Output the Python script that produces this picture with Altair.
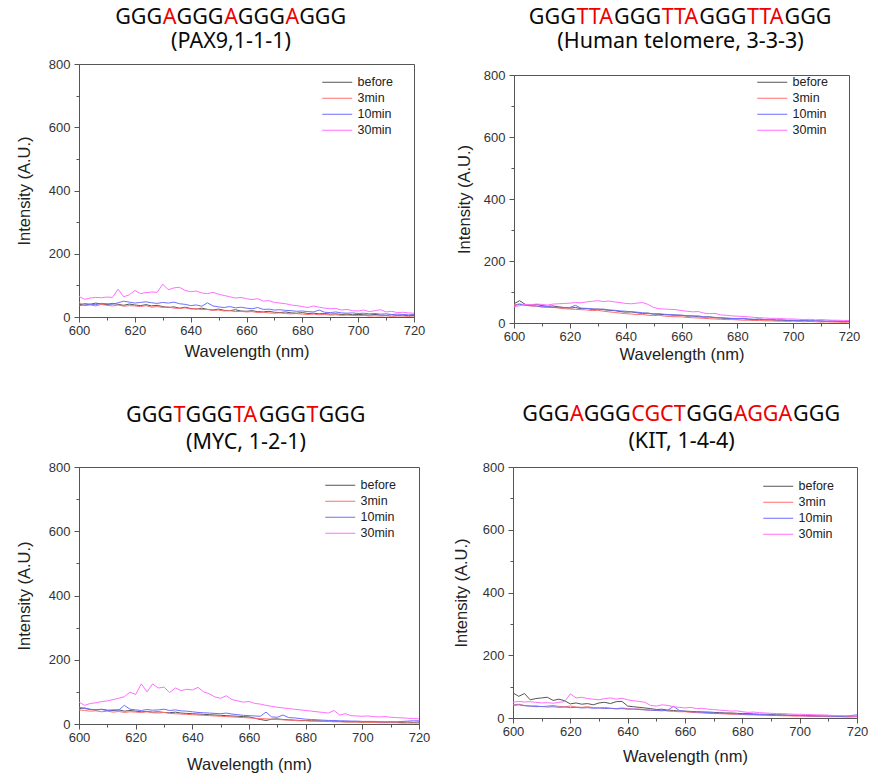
import altair as alt
import pandas as pd

wavelength = list(range(600, 721, 2))
series_names = ["before", "3min", "10min", "30min"]
series_colors = ["#555555", "#ff6f6f", "#6f6fff", "#ff6fff"]

# ---------------- PAX9 ----------------
pax9_before = [38, 42, 40, 44, 41, 39, 43, 40, 37, 41,
               38, 36, 39, 35, 37, 33, 30, 32, 28, 31,
               27, 25, 28, 24, 22, 25, 21, 20, 23, 19,
               18, 20, 17, 16, 18, 15, 14, 16, 13, 12,
               14, 11, 12, 10, 11, 9, 10, 8, 9, 7,
               8, 7, 6, 8, 6, 5, 7, 5, 6, 4,
               5]
pax9_3min = [46, 36, 38, 35, 40, 37, 35, 38, 34, 36,
             35, 33, 36, 31, 33, 30, 32, 28, 27, 29,
             25, 27, 23, 24, 21, 22, 19, 20, 17, 18,
             16, 17, 14, 15, 13, 12, 13, 11, 10, 11,
             9, 8, 9, 7, 8, 6, 7, 5, 6, 5,
             4, 5, 3, 4, 3, 4, 2, 3, 3, 2,
             3]
pax9_10min = [36, 38, 41, 39, 43, 42, 40, 45, 50, 47,
              44, 46, 48, 45, 43, 46, 44, 47, 42, 40,
              36, 38, 34, 45, 35, 32, 30, 33, 29, 31,
              28, 26, 30, 24, 25, 22, 23, 21, 20, 18,
              19, 17, 16, 22, 15, 14, 16, 13, 12, 13,
              11, 12, 10, 11, 9, 10, 8, 9, 8, 7,
              8]
pax9_30min = [65, 56, 60, 62, 61, 63, 62, 88, 64, 70,
              84, 74, 77, 79, 78, 104, 86, 92, 94, 84,
              80, 82, 76, 74, 78, 72, 68, 64, 60, 62,
              58, 55, 58, 50, 52, 46, 44, 42, 38, 36,
              33, 30, 35, 31, 28, 26, 27, 22, 24, 20,
              19, 22, 17, 20, 23, 16, 18, 14, 15, 13,
              12]

# ---------------- Human telomere ----------------
telo_before = [62, 72, 60, 58, 60, 56, 54, 55, 52, 50,
               48, 50, 46, 47, 44, 45, 43, 41, 40, 37,
               35, 36, 33, 31, 32, 29, 28, 27, 26, 25,
               25, 22, 23, 20, 19, 20, 17, 16, 15, 14,
               13, 14, 12, 11, 12, 10, 10, 9, 9, 8,
               8, 7, 8, 6, 7, 6, 5, 6, 5, 4,
               5]
telo_3min = [58, 62, 57, 55, 54, 52, 50, 51, 48, 46,
             45, 44, 43, 42, 40, 41, 38, 36, 34, 32,
             30, 29, 27, 28, 25, 24, 25, 22, 21, 20,
             20, 18, 17, 16, 15, 14, 13, 12, 11, 11,
             10, 9, 9, 8, 8, 7, 7, 6, 6, 5,
             6, 5, 4, 5, 4, 3, 4, 3, 3, 2,
             3]
telo_10min = [56, 60, 58, 56, 55, 52, 53, 50, 51, 49,
              50, 57, 48, 47, 46, 44, 45, 42, 41, 39,
              38, 36, 35, 33, 31, 29, 30, 28, 27, 26,
              25, 24, 22, 23, 20, 19, 18, 17, 16, 15,
              14, 15, 13, 12, 13, 11, 12, 10, 10, 9,
              9, 8, 9, 7, 8, 7, 6, 7, 6, 5,
              5]
telo_30min = [52, 56, 60, 59, 61, 60, 58, 61, 62, 63,
              64, 66, 65, 68, 70, 72, 69, 71, 68, 66,
              63, 62, 64, 66, 60, 50, 46, 45, 44, 43,
              40, 38, 36, 37, 32, 30, 31, 26, 25, 23,
              22, 21, 20, 18, 17, 16, 15, 15, 14, 13,
              13, 12, 11, 12, 10, 11, 10, 9, 9, 8,
              8]

# ---------------- MYC ----------------
myc_before = [48, 50, 45, 44, 46, 43, 42, 44, 40, 42,
              40, 38, 39, 37, 38, 36, 35, 37, 34, 33,
              32, 31, 30, 29, 28, 27, 26, 25, 24, 23,
              22, 18, 14, 11, 15, 16, 14, 13, 12, 11,
              11, 10, 10, 9, 9, 8, 8, 7, 7, 7,
              6, 7, 6, 6, 5, 6, 5, 5, 6, 5,
              6]
myc_3min = [44, 42, 40, 41, 38, 40, 37, 39, 36, 38,
            37, 36, 38, 35, 34, 36, 33, 32, 31, 30,
            29, 28, 27, 26, 25, 24, 23, 22, 21, 20,
            19, 18, 17, 16, 15, 14, 13, 12, 11, 10,
            10, 9, 9, 8, 8, 7, 7, 6, 6, 6,
            5, 5, 5, 4, 4, 4, 4, 3, 3, 3,
            3]
myc_10min = [52, 48, 46, 44, 45, 42, 44, 43, 58, 46,
             44, 42, 45, 43, 44, 46, 42, 44, 41, 40,
             38, 36, 35, 34, 33, 32, 34, 31, 29, 27,
             26, 25, 24, 37, 22, 21, 28, 20, 19, 17,
             15, 14, 13, 12, 11, 11, 10, 10, 9, 9,
             8, 8, 8, 7, 7, 7, 7, 8, 9, 10,
             10]
myc_30min = [68, 58, 64, 66, 70, 72, 76, 80, 85, 99,
             92, 125, 100, 125, 112, 115, 98, 112, 104, 108,
             106, 114, 100, 94, 84, 80, 88, 76, 72, 68,
             70, 64, 62, 58, 55, 52, 50, 48, 46, 44,
             42, 40, 38, 36, 34, 42, 28, 32, 26, 25,
             24, 25, 23, 22, 23, 21, 20, 19, 18, 17,
             16]

# ---------------- KIT ----------------
kit_before = [80, 69, 78, 58, 62, 64, 66, 56, 60, 55,
              45, 48, 44, 46, 42, 48, 50, 46, 52, 53,
              38, 36, 34, 32, 30, 27, 28, 25, 24, 22,
              22, 21, 20, 19, 19, 18, 17, 16, 16, 15,
              14, 14, 13, 12, 12, 11, 10, 10, 9, 9,
              8, 8, 7, 7, 6, 6, 6, 5, 5, 5,
              5]
kit_3min = [42, 44, 40, 38, 39, 36, 38, 40, 37, 36,
            38, 35, 34, 36, 33, 32, 34, 31, 30, 32,
            30, 28, 29, 26, 25, 24, 25, 22, 21, 20,
            20, 18, 17, 16, 15, 14, 14, 13, 12, 12,
            11, 10, 10, 9, 9, 8, 8, 7, 7, 6,
            6, 6, 5, 5, 5, 4, 4, 4, 3, 3,
            4]
kit_10min = [40, 42, 39, 38, 36, 37, 35, 36, 34, 35,
             33, 34, 32, 33, 31, 32, 30, 31, 29, 30,
             28, 29, 27, 26, 25, 24, 23, 25, 37, 24,
             21, 20, 19, 19, 17, 16, 15, 15, 14, 13,
             12, 12, 11, 11, 10, 10, 9, 9, 8, 8,
             8, 7, 7, 6, 7, 6, 6, 5, 6, 8,
             10]
kit_30min = [50, 53, 51, 52, 50, 48, 49, 47, 50, 52,
             77, 64, 66, 62, 60, 58, 62, 64, 60, 63,
             58, 55, 53, 50, 40, 38, 42, 40, 36, 34,
             32, 34, 30, 31, 28, 27, 25, 24, 22, 23,
             20, 18, 19, 17, 16, 15, 14, 14, 13, 12,
             12, 11, 11, 10, 10, 9, 8, 8, 7, 6,
             6]

# title sequences: [..] marks the red letters
titles = ["GGG[A]GGG[A]GGG[A]GGG",
          "GGG[TTA]GGG[TTA]GGG[TTA]GGG",
          "GGG[T]GGG[TA]GGG[T]GGG",
          "GGG[A]GGG[CGCT]GGG[AGGA]GGG"]
subtitles = ["(PAX9,1-1-1)", "(Human telomere, 3-3-3)", "(MYC, 1-2-1)", "(KIT, 1-4-4)"]

TITLE_FONT = "Noto Sans"
TITLE_SIZE = 21.5
CHAR_W = {"G": 0.738, "A": 0.639, "T": 0.556, "C": 0.632}
RED = "#ee0000"
BLACK = "#0a0a0a"


def parse_segments(s):
    segs = []
    cur = ""
    red = False
    for ch in s:
        if ch in "[]":
            if cur:
                segs.append((cur, RED if red else BLACK))
            cur = ""
            red = ch == "["
        else:
            cur += ch
    if cur:
        segs.append((cur, RED if red else BLACK))
    return segs


panel_specs = [
    dict(data=[pax9_before, pax9_3min, pax9_10min, pax9_30min], w=335, h=253,
         cx=152, ty=-40, sy=-16, xtp=6, ytp=16, lx=252, ly=12),
    dict(data=[telo_before, telo_3min, telo_10min, telo_30min], w=335, h=248,
         cx=166.5, ty=-40, sy=-16, xtp=3, ytp=11, lx=252, ly=12),
    dict(data=[myc_before, myc_3min, myc_10min, myc_30min], w=340, h=257,
         cx=167, ty=-45, sy=-18, xtp=12, ytp=16, lx=255, ly=12),
    dict(data=[kit_before, kit_3min, kit_10min, kit_30min], w=344, h=251,
         cx=168.5, ty=-46, sy=-19, xtp=10, ytp=13, lx=259, ly=13),
]


def title_layers(i):
    p = panel_specs[i]
    layers = []
    segs = parse_segments(titles[i])
    total = sum(CHAR_W[c] for s, _ in segs for c in s) * TITLE_SIZE
    x0 = p["cx"] - total / 2
    cum = 0.0
    for s, col in segs:
        layers.append(
            alt.Chart(pd.DataFrame({"t": [s]})).mark_text(
                align="left", baseline="alphabetic", font=TITLE_FONT,
                fontSize=TITLE_SIZE, color=col
            ).encode(text="t:N", x=alt.value(x0 + cum), y=alt.value(p["ty"]))
        )
        cum += sum(CHAR_W[c] for c in s) * TITLE_SIZE
    layers.append(
        alt.Chart(pd.DataFrame({"t": [subtitles[i]]})).mark_text(
            align="center", baseline="alphabetic", font=TITLE_FONT,
            fontSize=TITLE_SIZE, color=BLACK
        ).encode(text="t:N", x=alt.value(p["cx"]), y=alt.value(p["sy"]))
    )
    return layers


def make_panel(i, with_titles=True):
    p = panel_specs[i]
    rows = []
    for name, vals in zip(series_names, p["data"]):
        for wl, v in zip(wavelength, vals):
            rows.append({"wl": wl, "val": v, "series": name})
    df = pd.DataFrame(rows)

    lines = alt.Chart(df).mark_line(strokeWidth=1).encode(
        x=alt.X("wl:Q",
                scale=alt.Scale(domain=[600, 720], nice=False, zero=False),
                axis=alt.Axis(title="Wavelength (nm)",
                              values=list(range(600, 721, 10)),
                              labelExpr="datum.value % 20 === 0 ? datum.label : ''",
                              tickSize={"condition": {"test": "datum.value % 20 === 0", "value": 5},
                                        "value": 3},
                              labelFlush=False, labelOverlap=False,
                              labelPadding=2, titlePadding=p["xtp"])),
        y=alt.Y("val:Q",
                scale=alt.Scale(domain=[0, 800], nice=False),
                axis=alt.Axis(title="Intensity (A.U.)",
                              values=list(range(0, 801, 100)),
                              labelExpr="datum.value % 200 === 0 ? datum.label : ''",
                              tickSize={"condition": {"test": "datum.value % 200 === 0", "value": 5},
                                        "value": 3},
                              labelFlush=False, labelOverlap=False,
                              labelPadding=4, titlePadding=p["ytp"])),
        color=alt.Color("series:N",
                        scale=alt.Scale(domain=series_names, range=series_colors),
                        sort=series_names,
                        legend=alt.Legend(title=None, orient="none",
                                          legendX=p["lx"], legendY=p["ly"],
                                          symbolType="M-3,0H3", symbolSize=100,
                                          symbolStrokeWidth=1, rowPadding=3,
                                          labelFont="Liberation Sans", labelFontSize=12.5,
                                          labelColor="#222", labelOffset=14)),
    )
    layers = [lines]
    if with_titles:
        layers += title_layers(i)
    return alt.layer(*layers).properties(width=p["w"], height=p["h"])


# panel 2 sits 10 px lower than panel 1: its titles go in a thin strip above it
strip2 = alt.layer(*title_layers(1)).properties(
    width=335, height=3, view=alt.ViewBackground(stroke="transparent"))

row1 = alt.hconcat(
    make_panel(0),
    alt.vconcat(strip2, make_panel(1, with_titles=False), spacing=0),
    spacing=29,
)
row1 = row1.resolve_legend(color="independent").resolve_scale(color="independent")
row2 = alt.hconcat(make_panel(2), make_panel(3), spacing=21)
row2 = row2.resolve_legend(color="independent").resolve_scale(color="independent")

chart = alt.vconcat(row1, row2, spacing=40).resolve_legend(
    color="independent").resolve_scale(color="independent").properties(
    padding={"left": 15, "top": 6, "right": 0, "bottom": 0},
    background="white",
).configure_view(stroke="#555555", strokeWidth=1).configure_axis(
    grid=False, tickColor="#555555", domainColor="#555555",
    labelFont="Liberation Sans", labelFontSize=13, labelColor="#333333",
    titleFont="Liberation Sans", titleFontSize=16.5, titleFontWeight="normal",
    titleColor="#222222",
)

chart.save("out.html", embed_options={"renderer": "svg", "actions": False})
